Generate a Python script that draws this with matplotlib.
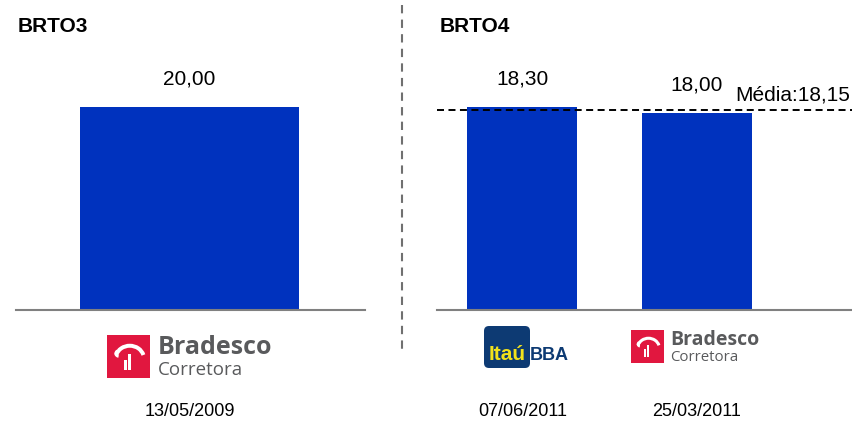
import matplotlib
matplotlib.use("Agg")
import matplotlib.pyplot as plt
from matplotlib.patches import Rectangle, FancyBboxPatch, Arc

# ---------------- data ----------------
left_title = "BRTO3"
right_title = "BRTO4"
left_labels = ["Bradesco Corretora"]
left_values = [20.00]
left_dates = ["13/05/2009"]
right_labels = ["Itaú BBA", "Bradesco Corretora"]
right_values = [18.30, 18.00]
right_dates = ["07/06/2011", "25/03/2011"]
mean_value = 18.15
mean_label = "Média:18,15"

FONT = ["Liberation Sans", "DejaVu Sans"]
LOGO_FONT = ["Open Sans", "DejaVu Sans"]
BAR = "#0032BE"
W, H = 853, 421

def fmt(v):
    return f"{v:.2f}".replace(".", ",")

fig = plt.figure(figsize=(W / 100, H / 100), dpi=100)

# overlay in pixel coordinates for decorations (logos, separator)
ov = fig.add_axes([0, 0, 1, 1], zorder=0)
ov.set_xlim(0, W)
ov.set_ylim(H, 0)
ov.axis("off")

def pax(x0, x1, ybot, ytop):
    return fig.add_axes([x0 / W, (H - ybot) / H, (x1 - x0) / W, (ybot - ytop) / H], zorder=2)

axL = pax(16, 365, 310, 60)
axR = pax(437, 853, 310, 60)

def style(ax):
    ax.patch.set_alpha(0)
    for s in ("top", "left", "right"):
        ax.spines[s].set_visible(False)
    ax.spines["bottom"].set_color("#808080")
    ax.spines["bottom"].set_linewidth(1.5)
    ax.set_xticks([])
    ax.set_yticks([])

# left panel
style(axL)
xl = list(range(len(left_values)))
barsL = axL.bar(xl, left_values, width=0.627, color=BAR, zorder=2)
axL.set_xlim(-0.497, 0.503)
axL.set_ylim(0, 24.63)
for b, v in zip(barsL, left_values):
    axL.annotate(fmt(v), (b.get_x() + b.get_width() / 2, v), xytext=(0, 20),
                 textcoords="offset points", ha="center", va="center",
                 fontsize=15, family=FONT)

# right panel
style(axR)
xr = list(range(len(right_values)))
barsR = axR.bar(xr, right_values, width=0.632, color=BAR, zorder=2)
axR.set_xlim(-0.491, 1.899)
axR.set_ylim(8.63, 20.535)
for b, v in zip(barsR, right_values):
    axR.annotate(fmt(v), (b.get_x() + b.get_width() / 2, v), xytext=(0, 20),
                 textcoords="offset points", ha="center", va="center",
                 fontsize=15, family=FONT)
axR.axhline(mean_value, color="black", lw=1.4, linestyle=(0, (3.6, 2.3)), zorder=3)
axR.annotate(mean_label, (1.22, mean_value), xytext=(0, 11), textcoords="offset points",
             ha="left", va="center", fontsize=15, family=FONT)

# titles
ov.text(18, 27, left_title, fontsize=15, fontweight="bold", family=FONT, va="center", ha="left")
ov.text(440, 27, right_title, fontsize=15, fontweight="bold", family=FONT, va="center", ha="left")

# separator
ov.plot([402, 402], [5, 350], color="#707070", lw=1.5, linestyle=(0, (4, 3)))

# dates
def to_px(ax, xd):
    disp = ax.transData.transform((xd, 0))
    return ov.transData.inverted().transform(disp)[0]

for i, d in enumerate(left_dates):
    ov.text(to_px(axL, xl[i]), 411, d, fontsize=13, family=FONT, ha="center", va="center")
for i, d in enumerate(right_dates):
    ov.text(to_px(axR, xr[i]), 411, d, fontsize=13, family=FONT, ha="center", va="center")

# logos
RED = "#E1173F"
GREY = "#595A5C"

def bradesco(x0, y0, s, fs1, fs2):
    ov.add_patch(Rectangle((x0, y0), s, s, color=RED, lw=0))
    lw = max(1.0, s / 15)
    cx, cy = x0 + 0.53 * s, y0 + 0.55 * s
    ov.add_patch(Arc((cx, cy), 0.66 * s, 0.60 * s, theta1=195, theta2=345,
                     color="white", lw=lw))
    # little hook on the left end
    ov.add_patch(Arc((x0 + 0.27 * s, y0 + 0.43 * s), 0.12 * s, 0.12 * s, theta1=90, theta2=250,
                     color="white", lw=lw * 0.8))
    ov.add_patch(Rectangle((x0 + 0.39 * s, y0 + 0.58 * s), 0.07 * s, 0.24 * s, color="white", lw=0))
    ov.add_patch(Rectangle((x0 + 0.49 * s, y0 + 0.45 * s), 0.07 * s, 0.37 * s, color="white", lw=0))
    ov.text(x0 + s * 1.19, y0 + s * 0.30, "Bradesco", fontsize=fs1, fontweight="bold",
            color=GREY, family=LOGO_FONT, ha="left", va="center")
    ov.text(x0 + s * 1.19, y0 + s * 0.82, "Corretora", fontsize=fs2,
            color=GREY, family=LOGO_FONT, ha="left", va="center")

bradesco(107, 335, 43, 18, 13.5)
bradesco(631, 330, 33, 14, 10.8)

# Itaú BBA
NAVY = "#0D3A73"
ov.add_patch(FancyBboxPatch((486, 328), 42, 38, boxstyle="round,pad=2,rounding_size=5",
                            color=NAVY, lw=0))
ov.text(507.5, 354, "Itaú", fontsize=15, fontweight="bold", color="#F2E21B",
        family=FONT, ha="center", va="center")
ov.text(530, 355, "BBA", fontsize=13, fontweight="bold", color=NAVY,
        family=FONT, ha="left", va="center")

fig.savefig("out.png", dpi=100)
